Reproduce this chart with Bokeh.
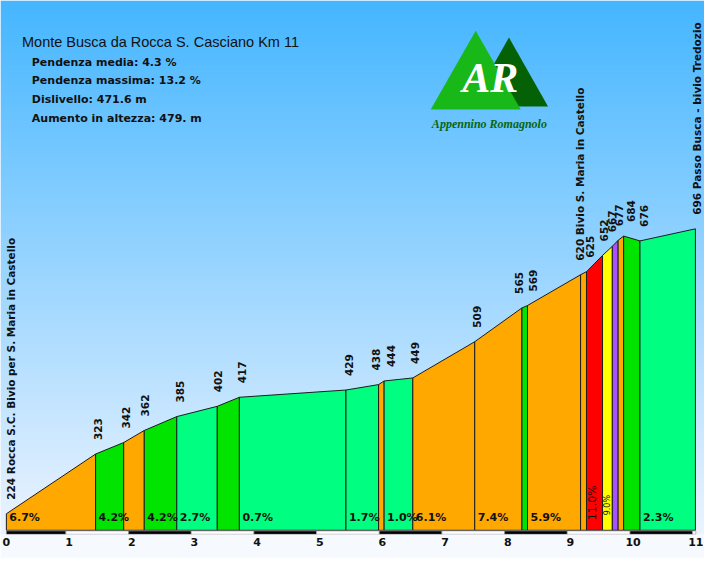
import numpy as np
from bokeh.plotting import figure
from bokeh.models import Range1d, LinearAxis, FixedTicker
from bokeh.core.properties import value
from bokeh.embed import file_html
from bokeh.resources import INLINE

# ---------------- data ----------------
KM = [0.0, 1.424, 1.872, 2.200, 2.719, 3.365, 3.718, 5.418, 5.939, 6.027, 6.485,
      7.473, 8.226, 8.315, 9.162, 9.256, 9.512, 9.668, 9.761, 9.849, 10.109, 10.994]
ELEV = [224, 323, 342, 362, 385, 402, 417, 429, 438, 444, 449,
        509, 565, 569, 620, 625, 652, 667, 677, 684, 676, 696]
NAMES = ["Rocca S.C. Bivio per S. Maria in Castello", "", "", "", "", "", "", "", "", "", "",
         "", "", "", "Bivio S. Maria in Castello", "", "", "", "", "", "",
         "Passo Busca - bivio Tredozio"]
GRADES = [6.7, 4.2, 6.1, 4.2, 2.7, 4.2, 0.7, 1.7, 6.8, 1.0, 6.1,
          7.4, 4.4, 5.9, 6.2, 11.0, 9.0, 13.2, 7.8, -3.2, 2.3]
GRADE_TEXT = ["6.7%", "4.2%", "", "4.2%", "2.7%", "", "0.7%", "1.7%", "", "1.0%", "6.1%",
              "7.4%", "", "5.9%", "", "11.0%", "9.0%", "", "", "", "2.3%"]
TITLE = "Monte Busca da Rocca S. Casciano Km 11"
STATS = ["Pendenza media: 4.3 %", "Pendenza massima: 13.2 %",
         "Dislivello: 471.6 m", "Aumento in altezza: 479. m"]
KM_TICKS = list(range(12))

# ---------------- geometry / style ----------------
W, H = 704, 558
SX, SY = W / 720, H / 574
KM_PX = 64.1 * SX
E_PX = 0.621 * SY
XS = -6 * SX / KM_PX
XE = XS + W / KM_PX
FRAME_H = 534
YE = 224 + 528 * SY / E_PX
YS = YE - FRAME_H / E_PX
BASE = YE - 545 * SY / E_PX
LABEL_DX = [5, 2, 2, 1, 3, 1, 3, 3, -3, 7, 2, 2, -3, 5, -1, 4, 1, 0, 1, 7, 4, 2]


def pos(X, Y):
    return XS + X * SX / KM_PX, YE - Y * SY / E_PX


def grade_color(g):
    if g < 0:
        return "#00E400"
    if g < 3:
        return "#00FF80"
    if g < 5:
        return "#00E400"
    if g < 8:
        return "#FFA800"
    if g < 10:
        return "#FFFF00"
    if g < 12:
        return "#FF0000"
    return "#A852FF"


p = figure(width=W, height=H, x_range=Range1d(XS, XE), y_range=Range1d(YS, YE),
           output_backend="svg", toolbar_location=None, title=None,
           x_axis_location=None, y_axis_location=None,
           min_border_left=0, min_border_right=0, min_border_top=0,
           min_border_bottom=H - FRAME_H)
p.outline_line_color = None
p.border_fill_color = "#F6FAFF"
p.background_fill_color = "#F6FAFF"
p.xgrid.visible = False
p.ygrid.visible = False

# background gradient
rows = FRAME_H
img = np.empty((rows, 1), dtype=np.uint32)
view = img.view(dtype=np.uint8).reshape((rows, 1, 4))
for r in range(rows):
    Yref = (FRAME_H - r - 0.5) / SY
    view[r, 0, 0] = int(min(255, 69 + 0.306 * Yref))
    view[r, 0, 1] = int(min(255, 182 + 0.113 * Yref))
    view[r, 0, 2] = 255
    view[r, 0, 3] = 255
p.image_rgba(image=[img], x=XS, y=YS, dw=XE - XS, dh=YE - YS)

# profile segments
xs, ys, cols = [], [], []
for i in range(len(KM) - 1):
    xs.append([KM[i], KM[i], KM[i + 1], KM[i + 1]])
    ys.append([BASE, ELEV[i], ELEV[i + 1], BASE])
    cols.append(grade_color(GRADES[i]))
p.patches(xs=xs, ys=ys, fill_color=cols, line_color="#1c1c1c", line_width=1)

# km bar (alternating black / white)
bl, br, bc = [], [], []
for k in KM_TICKS:
    l = max(0, k - 0.05)
    r = min(KM_TICKS[-1], k + 0.95)
    if r > l:
        bl.append(l); br.append(r); bc.append("#000000" if k % 2 == 0 else "#FFFFFF")
bar_top = BASE - 0.6 / E_PX
p.quad(left=bl, right=br, top=bar_top, bottom=YS + 0.2 / E_PX, fill_color=bc,
       line_color="#9a9a9a", line_width=0.7)

ax = LinearAxis(ticker=FixedTicker(ticks=KM_TICKS))
ax.axis_line_color = None
ax.major_tick_line_color = None
ax.minor_tick_line_color = None
ax.major_tick_out = 0
ax.major_tick_in = 0
ax.major_label_standoff = 3
ax.major_label_text_font = "DejaVu Sans"
ax.major_label_text_font_style = "bold"
ax.major_label_text_font_size = "11px"
ax.major_label_text_color = "#111111"
p.add_layout(ax, "below")

# elevation labels
lab = [(f"{e} {n}" if n else f"{e}") for e, n in zip(ELEV, NAMES)]
p.text(x=KM, y=ELEV, text=lab, angle=np.pi / 2, x_offset=LABEL_DX, y_offset=-14,
       text_align="left", text_baseline="middle",
       text_font=value("DejaVu Sans"), text_font_style="bold",
       text_font_size="10.5px", text_color="#111111")

# gradient labels
hx, ht, vx, vt = [], [], [], []
for i, t in enumerate(GRADE_TEXT):
    if not t:
        continue
    w = KM[i + 1] - KM[i]
    if w >= 0.4:
        hx.append(KM[i]); ht.append(t)
    else:
        vx.append((KM[i] + KM[i + 1]) / 2); vt.append(t)
p.text(x=hx, y=BASE, text=ht, x_offset=3, y_offset=-13,
       text_align="left", text_baseline="middle",
       text_font=value("DejaVu Sans"), text_font_style="bold",
       text_font_size="11px", text_color="#111111")
p.text(x=vx[:1], y=BASE, text=vt[:1], angle=np.pi / 2, x_offset=-2, y_offset=-10,
       text_align="left", text_baseline="middle",
       text_font=value("DejaVu Sans"), text_font_size="11px", text_color="#111111")
p.text(x=vx[1:], y=BASE, text=vt[1:], angle=np.pi / 2, x_offset=0, y_offset=-15,
       text_align="left", text_baseline="middle",
       text_font=value("DejaVu Sans"), text_font_size="8px", text_color="#111111")

# title and stats
tx, ty = pos(22, 43)
p.text(x=[tx], y=[ty], text=[TITLE], text_align="left", text_baseline="middle",
       text_font=value("Liberation Sans"), text_font_size="14.5px", text_color="#111111")
sx_, sy_ = [], []
for j, s in enumerate(STATS):
    a, b = pos(32, 63.3 + 19.2 * j)
    sx_.append(a); sy_.append(b)
p.text(x=sx_, y=sy_, text=STATS, text_align="left", text_baseline="middle",
       text_font=value("DejaVu Sans"), text_font_style="bold",
       text_font_size="11px", text_color="#111111")

# logo
d = [pos(520, 38), pos(560, 109), pos(480, 109)]
p.patch(x=[q[0] for q in d], y=[q[1] for q in d], fill_color="#056105", line_color=None)
l_ = [pos(486, 31), pos(532, 112), pos(440, 112)]
p.patch(x=[q[0] for q in l_], y=[q[1] for q in l_], fill_color="#17B817", line_color=None)
ax_, ay_ = pos(501, 80)
p.text(x=[ax_], y=[ay_], text=["AR"], text_align="center", text_baseline="middle",
       text_font=value("Liberation Serif"), text_font_style="bold italic",
       text_font_size="42px", text_color="#FFFFFF")
bx_, by_ = pos(500, 127)
p.text(x=[bx_], y=[by_], text=["Appennino Romagnolo"], text_align="center",
       text_baseline="middle", text_font=value("Liberation Serif"),
       text_font_style="bold italic", text_font_size="12px", text_color="#0B650B")

open("out.html", "w").write(file_html(p, INLINE))
